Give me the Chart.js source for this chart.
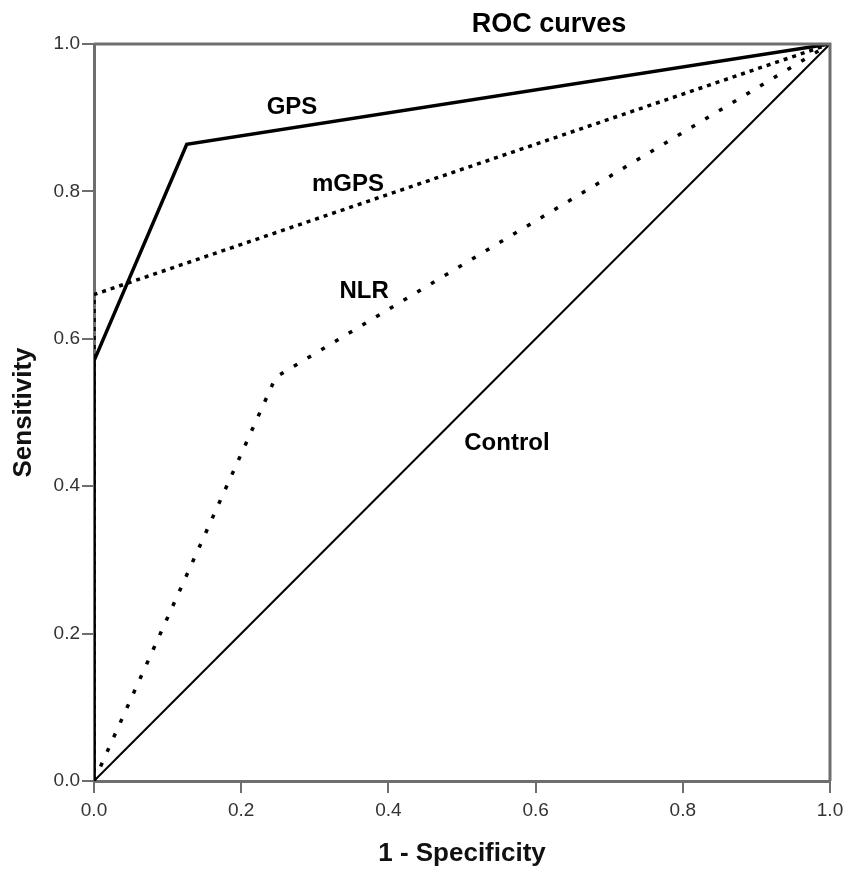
<!DOCTYPE html>
<html>
<head>
<meta charset="utf-8">
<script src="https://cdn.jsdelivr.net/npm/chart.js@4/dist/chart.umd.min.js"></script>
<style>
  html, body { margin: 0; padding: 0; background: #fff; }
  #wrap { width: 847px; height: 873px; }
</style>
</head>
<body>
<div id="wrap"><canvas id="roc" width="847" height="873"></canvas></div>
<script>
// ROC curve points (1 - specificity, sensitivity)
const gpsX = [0, 0, 0.126, 1];
const gpsY = [0, 0.57, 0.864, 1];
const mgpsX = [0, 0, 1];
const mgpsY = [0, 0.66, 1];
const nlrX = [0, 0.247, 1];
const nlrY = [0, 0.548, 1];
const controlX = [0, 1];
const controlY = [0, 1];
const tickValues = [0, 0.2, 0.4, 0.6, 0.8, 1.0];

// curve labels placed in data coordinates
const curveLabels = [
  { text: 'GPS', x: 0.269, y: 0.914 },
  { text: 'mGPS', x: 0.345, y: 0.81 },
  { text: 'NLR', x: 0.367, y: 0.665 },
  { text: 'Control', x: 0.561, y: 0.458 }
];

function toPoints(xs, ys) {
  return xs.map((x, i) => ({ x: x, y: ys[i] }));
}

const axisGray = '#6e6e6e';
const labelFont = 'Liberation Sans, Arial, sans-serif';

// frame, title and curve labels
const extras = {
  id: 'extras',
  afterDraw(chart) {
    const ctx = chart.ctx;
    const a = chart.chartArea;
    ctx.save();
    ctx.strokeStyle = axisGray;
    ctx.lineWidth = 3;
    ctx.beginPath();
    ctx.moveTo(a.left, a.top);
    ctx.lineTo(a.right, a.top);
    ctx.lineTo(a.right, a.bottom);
    ctx.stroke();

    ctx.fillStyle = '#000';
    ctx.font = 'bold 27px ' + labelFont;
    ctx.textAlign = 'center';
    ctx.textBaseline = 'middle';
    ctx.fillText('ROC curves', 549, 25);

    ctx.font = 'bold 24px ' + labelFont;
    const xs = chart.scales.x, ys = chart.scales.y;
    curveLabels.forEach(l => {
      ctx.fillText(l.text, xs.getPixelForValue(l.x), ys.getPixelForValue(l.y));
    });
    ctx.restore();
  }
};

function initChart() {
  const ctx = document.getElementById('roc').getContext('2d');

  const data = {
    datasets: [{
      label: 'Control',
      data: toPoints(controlX, controlY),
      borderColor: '#000',
      borderWidth: 2
    }, {
      label: 'NLR',
      data: toPoints(nlrX, nlrY),
      borderColor: '#000',
      borderWidth: 3.5,
      borderDash: [4, 12]
    }, {
      label: 'mGPS',
      data: toPoints(mgpsX, mgpsY),
      borderColor: '#000',
      borderWidth: 3.5,
      borderDash: [4, 5]
    }, {
      label: 'GPS',
      data: toPoints(gpsX, gpsY),
      borderColor: '#000',
      borderWidth: 3.5
    }]
  };

  const tickFont = { family: labelFont, size: 19 };
  const titleFont = { family: labelFont, size: 26, weight: 'bold' };

  const config = {
    type: 'line',
    data: data,
    options: {
      responsive: false,
      animation: false,
      layout: { padding: { top: 44, right: 17, left: 0, bottom: 0 } },
      elements: { point: { radius: 0 }, line: { tension: 0 } },
      plugins: { legend: { display: false }, tooltip: { enabled: false } },
      scales: {
        x: {
          type: 'linear',
          min: 0,
          max: 1,
          afterBuildTicks: s => { s.ticks = tickValues.map(v => ({ value: v })); },
          afterFit: s => { s.height = 92; s.paddingRight = 0; s.paddingLeft = 0; },
          border: { color: axisGray, width: 3 },
          grid: { drawOnChartArea: false, color: axisGray, lineWidth: 2, tickLength: 12 },
          ticks: { color: '#333', font: tickFont, padding: 6, callback: v => v.toFixed(1) },
          title: { display: true, text: '1 - Specificity', color: '#111', font: titleFont, padding: { bottom: 4 } }
        },
        y: {
          type: 'linear',
          min: 0,
          max: 1,
          afterBuildTicks: s => { s.ticks = tickValues.map(v => ({ value: v })); },
          afterFit: s => { s.width = 94; s.paddingTop = 0; s.paddingBottom = 0; },
          border: { color: axisGray, width: 3 },
          grid: { drawOnChartArea: false, color: axisGray, lineWidth: 2, tickLength: 12 },
          ticks: { color: '#333', font: tickFont, padding: 2, callback: v => v.toFixed(1) },
          title: { display: true, text: 'Sensitivity', color: '#111', font: titleFont, padding: { top: 8 } }
        }
      }
    },
    plugins: [extras]
  };

  new Chart(ctx, config);
}

document.addEventListener('DOMContentLoaded', initChart);
</script>
</body>
</html>
